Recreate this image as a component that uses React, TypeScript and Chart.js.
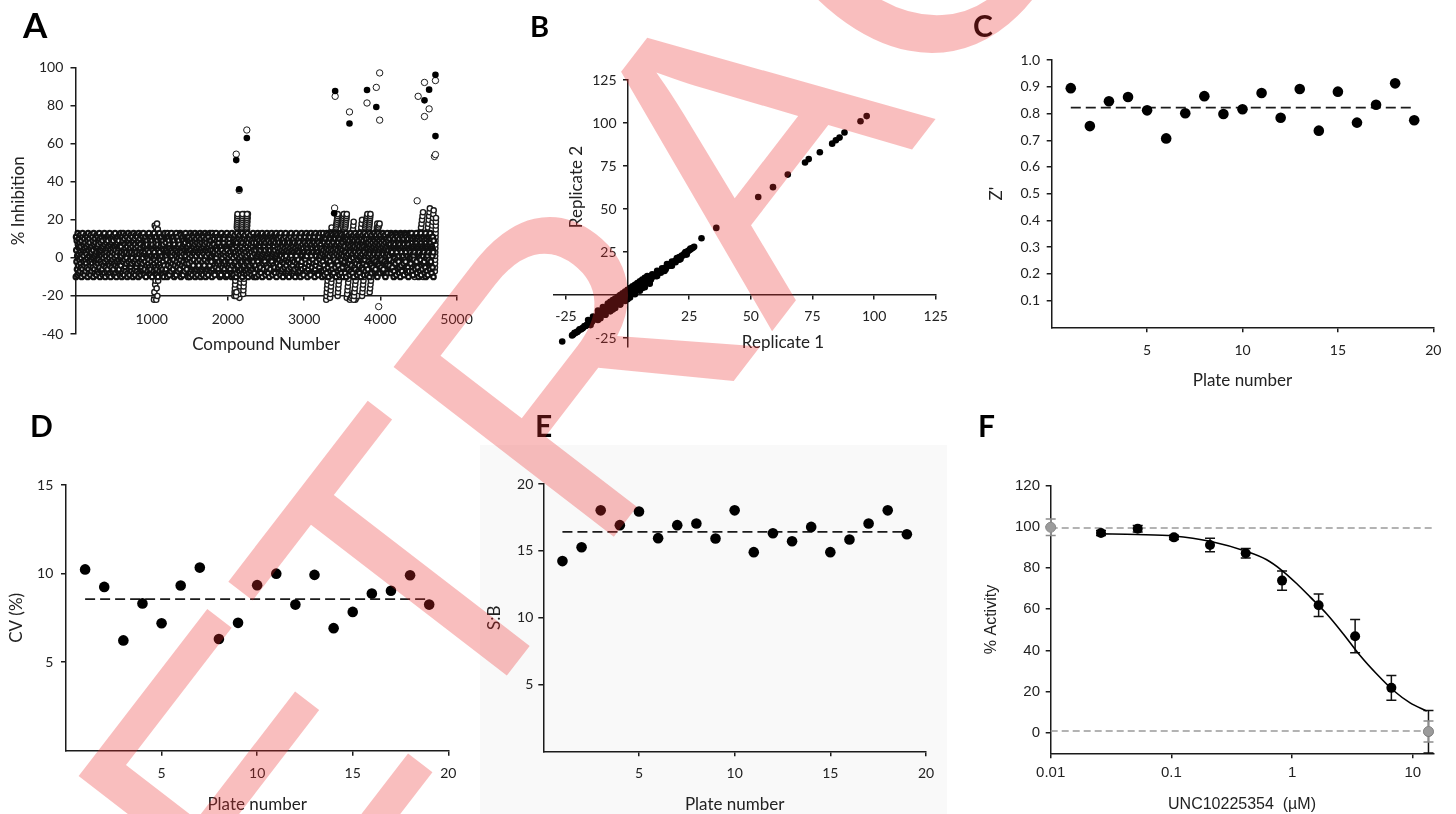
import React, { useEffect, useRef } from 'react';
import { Chart, registerables } from 'chart.js';

Chart.register(...registerables);

const LATO = 'Lato, "Open Sans", sans-serif';
const ARIAL = '"Liberation Sans", Arial, sans-serif';
const INK = '#1b1b1b';
const TXT = '#222';
Chart.defaults.font.family = LATO;
Chart.defaults.color = TXT;

// ---------------- Panel A : % inhibition per compound ----------------
// value code: 'A' = -25 ... 'Z' = 0, 'a' = 1 ... 'z' = 26
const CODE = 'ABCDEFGHIJKLMNOPQRSTUVWXYZabcdefghijklmnopqrstuvwxyz';
const CODE_ZERO = 25;
const bandFrom = 5;
const bandTo = 4700;
const bandCodes = [
  'PkdXiTaQmgVbRjeYhSlcWfUZiPbkTmRdgXaVjQehYcSlWfbUkZiPgmTdRajXhVeQlbYcSfWkUiZdPmgTaRjXbhVeQlcYfSkWi',
  'gYRcmUjPbXhdSkaWeTiQflZVbRmgXdPjUahScYkeTiWlQfbZVmRdgPjXaUhcSkYeiTlWQbfZmVdRgjPaXhUckSeYiTlWfQbZm',
  'VfacPkRhiXmTbdQjYgeUlSaWcZkfPhRimXbTdjQgYelUaScWkZfhPiRmbXdTjgQeYlaUcSkWfZhiPmRbdXjTgeQlYaUcSkWZf',
  'mRbQjfTcXhkPaeVigZdSlWbYmUcjRfQhTkaXeiPgVdlZbSmWcYjUfhRkQaTeXigPdVlbZmScWjYfUhkRaQeTiXgdPlVbmZcSj',
  'hTdaYjPmcVfkRibQgeXlUbSdmZajWchTkfYiPgbVelRdQmaXjcUkSfhZibWgTdmYlPaecVjRkfQiXbgUlSdhZmaWjcTekYfPi',
  'cWkgZbPiRmedTjXahQlUcVfkYbiSgmPdRjaTehXlQcUfkVbiYgSmdPjaRehTlXcQfkUbiVgYmSdPjaRhelTcXfQkbUigVmYdS',
  'iSaXfPmdkTbhRgjVcQleYaUmZfidWbkSgThXjRcPleVaQfmYdUiZbkWghSjTcXlRaPfeVmQdiYbUkZgWhjScTlXaRfPmeVdQi',
  'ZeQjbWlTgcXiPafRmhUdVkYbjSeZlQgcWiTafXmPhdRkUbVjeYlSgZcQiWaTfmXhPdkRbUjVeYlgSZcQiaWfTmhXdPkRbjUeV',
  'dhPkYaTjmXbeQgiVcSflUdRhkZamPjbWegTicYfXldQhkVaSmjUbeRgiZcPflWdThkYamXjbQegVicSflUdRhkZamPjbWegT',
  'jUcRhlYeVbkQmaSgdXiTfPjZcWhlUebRkmYaVgdQiSfXjTcPhlZeWbkUmaRgdYiVfQjScXhlTePbkZmaWgdUiRfYjVcQhlSe',
  'kPfVbmXaTgdReiQjcZlhUkYfWbmSagdPeiTjcVlhXkRfQbmZagUdeiYjcWlhSkPfTbmVagXdeiRjcQlhZkUfYbmWagSdeiPj',
  'bXmSdiVhQakfTcjZemRgbYlUdiPhWakfXcjSemVgbQlTdiZhRakfYcjUemPgbWlXdiShVakfQcjTemZgbRlYdiUhPakfWcjX',
  'fRiZcmPkaUhejXbgTlWdiQfYcmSkaVhejRbgZlPdiUfXcmTkaWhejQbgYlSdiVfRcmZkaPhejUbgXlTdiWfQcmYkaShejVbg',
  'lQeThaXjcfPmbWigdVkRleZhaUjcfYmbSigdTkXleQhaPjcfWmbVigdRkZleUhaYjcfSmbTigdXkQlePhaWjcfVmbRigdZkU',
  'aVjYgeRmdlTbcUkifXhPaSjZgeWmdlQbcYkifTheXaRjUgePmdlVbcSkifZhaWjQgeYmdlXbcTkifRhaUjPgeSmdlZbcWkif',
  'mZhSjbQfeaYkdcViTlgWmXhRjbUfeaPkdcZiSlgYmQhVjbTfeaWkdcXiRlgUmPhZjbSfeaQkdcYiVlgTmWhXjbRfeaUkdcPi',
];
const excursionsA: [number, number, string][] = [
  [1030, 1085, 'DHqLNpDJrFoN'],
  [2085, 2150, 'FHJLNPRTVXZbdfhjlnprtv'],
  [2150, 2215, 'EGIKMOQSUWYacegikmoqsw'],
  [2200, 2262, 'GIKMOQSUWYacegikmoqsuw'],
  [2118, 2126, 'pqrstuvw'],
  [2182, 2190, 'opqrstuvw'],
  [2244, 2250, 'nopqrstuvw'],
  [2100, 2112, 'GFH'],
  [3290, 3360, 'DFHJLNPRTVXZbdfhjlnp'],
  [3340, 3420, 'EGIKMOQSUWYacegikmoq'],
  [3420, 3440, 'pqrstuvw'],
  [3440, 3530, 'FHJLNPRTVXZbdfhjlnprtvw'],
  [3500, 3520, 'qrstuvw'],
  [3540, 3560, 'pqrstuvw'],
  [3560, 3650, 'EGIKMOQSUWYacegikmoqs'],
  [3600, 3700, 'DEFGHDEF'],
  [3650, 3760, 'DFHJLNPRTVXZbdfhjlnprt'],
  [3760, 3860, 'FHJLNPRTVXZbdfhjlnprtvw'],
  [3800, 3830, 'pqrstuvw'],
  [3850, 3870, 'opqrstuvw'],
  [3860, 3960, 'HJLNPRTVXZbdfhjlnpr'],
  [3960, 3990, 'nopqr'],
  [4450, 4560, 'PRTVXZbdfhjlnprtvx'],
  [4560, 4650, 'PRTVXZbdfhjlnprtvxz'],
  [4620, 4700, 'QSUWYacegikmoqsuwy'],
  [4715, 4730, 'SUWYacegikmoqsu'],
];
const hitsFilledX = [2109, 2148, 2248, 3407, 3394, 3595, 3825, 3947, 4579, 4640, 4723, 4723];
const hitsFilledY = [51.4, 36.1, 63.0, 87.7, 23.4, 70.6, 88.2, 79.3, 82.8, 88.4, 96.2, 64.0];
const hitsOpenX = [2109, 2148, 2248, 3407, 3400, 3595, 3825, 3947, 3991, 3991, 4496, 4579, 4579, 4640, 4723, 4710, 4723, 4483, 3978];
const hitsOpenY = [54.5, 35.5, 67.2, 84.9, 26.2, 76.7, 81.4, 89.6, 97.2, 72.4, 84.9, 92.2, 74.3, 78.3, 93.2, 53.3, 54.3, 30.0, -25.6];
const ticksAX = [1000, 2000, 3000, 4000, 5000];
const labelsAX = ['1000', '2000', '3000', '4000', '5000'];
const ticksAY = [-40, -20, 0, 20, 40, 60, 80, 100];
const labelsAY = ['-40', '-20', '0', '20', '40', '60', '80', '100'];

// ---------------- Panel B : replicate correlation ----------------
const replicate1 = [
  -22, -21, -20, -19, -18, -17, -16, -15, -14, -13, -12, -11, -10, -9, -8, -7, -6, -5, -4, -3, -2, -1, 0, 1, 2, 3, 4, 5, 6, 7, 8, 9, 10, 11, 12, 13, 14, 15, 16, 17, 18, 19, 20, 21, 22, 23, 24, 25, 26, 27,
  -21.5, -20.5, -19.5, -18.5, -17.5, -16.5, -15.5, -14.5, -13.5, -12.5, -11.5, -10.5, -9.5, -8.5, -7.5, -6.5, -5.5, -4.5, -3.5, -2.5, -1.5, -0.5, 0.5, 1.5, 2.5, 3.5, 4.5, 5.5, 6.5, 7.5, 8.5, 9.5, 10.5, 11.5, 12.5, 13.5, 14.5, 15.5, 16.5, 17.5, 18.5, 19.5, 20.5, 21.5, 22.5, 23.5, 24.5, 25.5, 26.5,
  -16, -14, -12, -10, -8, -6, -4, -2, 0, 2, 4, 6, 8, 10, 12, 14, 16, 18, 20,
  -15, -12, -9, -6, -3, 0, 3, 6, 9, 12, 15, 18, 21, 24,
  -20.5, -18.5, -16.5, -14.5, -12.5, -10.5, -8.5, -6.5, -4.5, -2.5, -0.5, 1.5, 3.5, 5.5, 7.5, 9.5, 11.5, 13.5, 15.5, 17.5, 19.5, 21.5, 23.5, 25.5,
  -12, -10, -8, -7, -6, -5, -4, -3, -2, -1, 0, 1, 2, 3, 4, 5, 6, 7, 8, -11, -9, -7, -5, -3, -1, 1, 3, 5, 7, 9,
  -26.5, -22.5, 30, 36, 53, 59, 65, 72, 73.5, 78, 83, 84.5, 86, 88, 94.5, 97,
];
const replicate2 = [
  -23, -22, -21, -20, -19, -18, -17, -16, -14.5, -14, -13, -11.5, -11, -9.5, -9, -7.5, -7, -5.5, -5, -3.5, -2.5, -1.5, -0.5, 1, 2, 3.5, 4, 5.5, 6, 7.5, 8.5, 9.5, 10.5, 11.5, 12.5, 13.5, 14.5, 15.5, 16.5, 17.5, 18.5, 19.5, 20.5, 22, 23, 24, 25, 26, 27, 28,
  -22, -21.5, -20, -19.5, -18, -17.5, -16, -15.5, -14, -13.5, -12, -11, -10, -9, -7.5, -6, -5, -4, -3, -2, -0.5, 0.5, 1.5, 2.5, 3, 4, 5, 6, 7, 8, 9, 10, 11, 12, 13, 14, 15, 16, 17, 18, 19, 20, 21, 22, 23, 24.5, 25.5, 26.5, 27.5,
  -14.5, -12.5, -10.5, -8, -6, -4, -2, 0.5, 2, 4.5, 6.5, 8.5, 10.5, 12, 14, 15.5, 18, 19.5, 21.5,
  -17.5, -14.5, -11.5, -8.5, -5.5, -2.5, 1, 4, 7.5, 11, 14, 17, 20.5, 23.5,
  -21.5, -19.5, -17.5, -15.5, -13, -11, -8.5, -6.5, -4.5, -2.5, 0, 1.5, 3, 5, 7, 9, 11, 13, 15, 17, 19, 21, 25, 27,
  -9, -7, -5, -4, -3, -2, -1, 0, 1, 2, 3, 4, 5, 6, 7, 8, 9, 10, 11, -13.5, -11.5, -9.5, -7.5, -5.5, -3.5, -1.5, 0.5, 2.5, 4.5, 6.5,
  -27, -23.5, 33, 39, 57, 62.7, 70, 77, 79, 83, 88, 90, 91.5, 94.5, 101, 104,
];
const ticksB = [-25, 25, 50, 75, 100, 125];
const labelsB = ['-25', '25', '50', '75', '100', '125'];

// ---------------- Panels C, D, E : plate statistics ----------------
const plates = [1, 2, 3, 4, 5, 6, 7, 8, 9, 10, 11, 12, 13, 14, 15, 16, 17, 18, 19];
const zPrime = [0.895, 0.753, 0.846, 0.862, 0.812, 0.707, 0.801, 0.865, 0.798, 0.816, 0.877, 0.784, 0.892, 0.736, 0.882, 0.766, 0.833, 0.913, 0.775];
const zPrimeMean = 0.822;
const cvPercent = [10.24, 9.25, 6.23, 8.32, 7.2, 9.33, 10.34, 6.31, 7.22, 9.35, 10.0, 8.25, 9.93, 6.92, 7.84, 8.88, 9.03, 9.91, 8.25];
const cvMean = 8.56;
const signalToBackground = [14.23, 15.27, 18.03, 16.92, 17.94, 15.95, 16.92, 17.04, 15.92, 18.03, 14.9, 16.32, 15.72, 16.79, 14.9, 15.85, 17.04, 18.03, 16.24];
const sbMean = 16.42;
const plateTicks = [5, 10, 15, 20];
const plateLabels = ['5', '10', '15', '20'];
const ticksCY = [0.1, 0.2, 0.3, 0.4, 0.5, 0.6, 0.7, 0.8, 0.9, 1.0];
const labelsCY = ['0.1', '0.2', '0.3', '0.4', '0.5', '0.6', '0.7', '0.8', '0.9', '1.0'];
const ticksDY = [5, 10, 15];
const labelsDY = ['5', '10', '15'];
const ticksEY = [5, 10, 15, 20];
const labelsEY = ['5', '10', '15', '20'];

// ---------------- Panel F : dose response ----------------
const concF = [0.0261, 0.0526, 0.105, 0.209, 0.413, 0.826, 1.66, 3.33, 6.65, 13.5];
const activityF = [97.0, 99.1, 94.9, 91.2, 87.2, 73.9, 61.9, 46.9, 21.8, 0.5];
const errorF = [1.2, 1.6, 1.0, 3.3, 2.3, 4.7, 5.5, 8.1, 6.0, 10.3];
const controlConc = [0.01, 13.5];
const controlActivity = [99.8, 0.6];
const controlError = [4.0, 5.1];
const fitConc = [0.0256, 0.0516, 0.104, 0.209, 0.421, 0.616, 0.826, 1.09, 1.41, 1.94, 2.66, 3.66, 5.03, 6.92, 9.51, 13.06];
const fitActivity = [96.6, 96.3, 95.6, 93.0, 88.0, 84.0, 78.8, 72.5, 66.0, 57.7, 48.0, 37.5, 28.5, 20.5, 14.5, 10.5];
const refLevels = [99.5, 0.8];
const refSpan = [0.01, 14.8];
const ticksFX = [0.01, 0.1, 1, 10];
const labelsFX = ['0.01', '0.1', '1', '10'];
const ticksFY = [0, 20, 40, 60, 80, 100, 120];
const labelsFY = ['0', '20', '40', '60', '80', '100', '120'];

// ---------------- helpers ----------------
function decode(from: number, to: number, codes: string) {
  const chars = Array.from(codes);
  const n = chars.length;
  return chars.map((ch, i) => ({ x: n > 1 ? from + ((to - from) * i) / (n - 1) : from, y: CODE.indexOf(ch) - CODE_ZERO }));
}
function pairs(xs: number[], ys: number[]) {
  return xs.map((x, i) => ({ x, y: ys[i] }));
}

type AxisSpec = {
  type?: string; position: any; min: number; max: number; ticks: number[]; labels: string[];
  font: any; tl: number; pad: number; size: number; title?: string; titleFont?: any; titlePad?: any; hideLabels?: boolean;
};
function axis(s: AxisSpec) {
  return {
    type: s.type ?? 'linear',
    position: s.position,
    min: s.min,
    max: s.max,
    border: { display: true, color: INK, width: 1.5 },
    grid: { display: true, drawOnChartArea: false, drawTicks: true, tickLength: s.tl, color: INK, tickColor: INK, tickWidth: 1.5, lineWidth: 1.5 },
    afterBuildTicks: (sc: any) => { sc.ticks = s.ticks.map((value) => ({ value })); },
    ticks: { display: !s.hideLabels, color: TXT, font: s.font, padding: s.pad, autoSkip: false, maxRotation: 0, minRotation: 0, callback: (_v: any, i: number) => s.labels[i] ?? '' },
    title: s.title ? { display: true, text: s.title, color: TXT, font: s.titleFont, padding: s.titlePad } : { display: false },
    afterFit: (sc: any) => { if (sc.isHorizontal()) sc.height = s.size; else sc.width = s.size; },
  };
}
function base(padding: any, scales: any, plugins: any = {}) {
  return {
    responsive: false,
    animation: false,
    events: [],
    layout: { padding },
    plugins: { legend: { display: false }, tooltip: { enabled: false }, ...plugins },
    scales,
  };
}

// axis titles placed at fixed spots (panel B has crossing axes)
const freeTextPlugin = {
  id: 'freeText',
  afterDraw(chart: any, _a: any, opts: any) {
    const ctx = chart.ctx;
    for (const it of opts.items || []) {
      ctx.save();
      ctx.font = it.font;
      ctx.fillStyle = TXT;
      ctx.textAlign = 'center';
      ctx.textBaseline = 'middle';
      ctx.translate(it.x, it.y);
      if (it.rotate) ctx.rotate(it.rotate);
      ctx.fillText(it.text, 0, 0);
      ctx.restore();
    }
  },
};

// y tick labels for an axis that crosses at x = 0
const crossLabelPlugin = {
  id: 'crossLabels',
  afterDraw(chart: any, _a: any, opts: any) {
    if (!opts.values) return;
    const { ctx } = chart;
    const px = chart.scales.x.getPixelForValue(0) - opts.gap;
    ctx.save();
    ctx.font = opts.font;
    ctx.fillStyle = TXT;
    ctx.textAlign = 'right';
    ctx.textBaseline = 'middle';
    opts.values.forEach((v: number, i: number) => ctx.fillText(opts.labels[i], px, chart.scales.y.getPixelForValue(v)));
    ctx.restore();
  },
};

const errorBarPlugin = {
  id: 'errorBars',
  beforeDatasetsDraw(chart: any, _a: any, opts: any) {
    const { ctx } = chart;
    const xs = chart.scales.x;
    const ys = chart.scales.y;
    for (const set of opts.sets || []) {
      ctx.save();
      ctx.strokeStyle = set.color;
      ctx.lineWidth = 1.5;
      set.x.forEach((xv: number, i: number) => {
        const px = xs.getPixelForValue(xv);
        const top = ys.getPixelForValue(set.y[i] + set.err[i]);
        const rawBot = ys.getPixelForValue(set.y[i] - set.err[i]);
        const bot = Math.min(rawBot, chart.chartArea.bottom);
        ctx.beginPath();
        ctx.moveTo(px, top); ctx.lineTo(px, bot);
        ctx.moveTo(px - 5, top); ctx.lineTo(px + 5, top);
        if (rawBot <= chart.chartArea.bottom) { ctx.moveTo(px - 5, bot); ctx.lineTo(px + 5, bot); }
        ctx.stroke();
      });
      ctx.restore();
    }
  },
};

const tickLato = { family: LATO, size: 14 };
const titleLato = { family: LATO, size: 17 };
const tickArial = { family: ARIAL, size: 15 };
const titleArial = { family: ARIAL, size: 16 };

const openStyle = { pointBackgroundColor: '#fff', pointBorderColor: INK, pointBorderWidth: 1, showLine: false, clip: false };

function buildA() {
  const band = decode(bandFrom, bandTo, bandCodes.join(''));
  const exc = excursionsA.flatMap(([f, t, c]) => decode(f, t, c));
  return {
    type: 'scatter',
    data: {
      datasets: [
        { data: pairs(hitsFilledX, hitsFilledY), pointRadius: 3.3, pointBackgroundColor: '#000', pointBorderColor: '#000', pointBorderWidth: 0, clip: false },
        { data: pairs(hitsOpenX, hitsOpenY), pointRadius: 3.2, ...openStyle },
        { data: band, pointRadius: 2.3, ...openStyle, pointBorderWidth: 2.2, pointBorderColor: '#111' },
        { data: exc, pointRadius: 2.6, ...openStyle, pointBorderWidth: 1.4 },
      ],
    },
    options: base({ top: 14, right: 26, bottom: 26, left: 0 }, {
      x: axis({ position: { y: -20 }, min: 0, max: 5000, ticks: ticksAX, labels: labelsAX, font: tickLato, tl: 4, pad: 11.2, size: 60.5, title: 'Compound Number', titleFont: titleLato, titlePad: { top: 0, bottom: 2 } }),
      y: axis({ position: 'left', min: -40, max: 100, ticks: ticksAY, labels: labelsAY, font: tickLato, tl: 5, pad: 7.2, size: 69.5, title: '% Inhibition', titleFont: titleLato, titlePad: { top: 2.1, bottom: 0 } }),
    }),
  };
}

function buildB() {
  return {
    type: 'scatter',
    data: { datasets: [{ data: pairs(replicate1, replicate2), pointRadius: 3.3, pointBackgroundColor: '#000', pointBorderWidth: 0, clip: false }] },
    options: base({ top: 20, right: 24.3, bottom: 13.4, left: 13.6 }, {
      x: axis({ position: { y: 0 }, min: -30, max: 125, ticks: ticksB, labels: labelsB, font: tickLato, tl: 4, pad: 9.3, size: 30 }),
      y: axis({ position: { x: 0 }, min: -30, max: 125, ticks: ticksB, labels: labelsB, font: tickLato, tl: 4, pad: 8.6, size: 30, hideLabels: true }),
    }, {
      freeText: { items: [
        { text: 'Replicate 1', x: 243, y: 283, font: `17px ${LATO}` },
        { text: 'Replicate 2', x: 37, y: 127, rotate: -Math.PI / 2, font: `17px ${LATO}` },
      ] },
      crossLabels: { values: ticksB, labels: labelsB, gap: 11, font: `14px ${LATO}` },
    }),
    plugins: [freeTextPlugin, crossLabelPlugin],
  };
}

function plateChart(values: number[], mean: number, yMax: number, yTicks: number[], yLabels: string[], yTitle: string, g: any) {
  return {
    type: 'scatter',
    data: {
      datasets: [
        { data: pairs(plates, values), pointRadius: 5.3, pointBackgroundColor: '#000', pointBorderWidth: 0, clip: false },
        { type: 'line', data: [{ x: plates[0], y: mean }, { x: plates[plates.length - 1], y: mean }], showLine: true, borderColor: INK, borderWidth: 1.6, borderDash: [10, 5], pointRadius: 0 },
      ],
    },
    options: base({ top: g.pt, right: g.pr, bottom: 0, left: 0 }, {
      x: axis({ position: 'bottom', min: 0, max: 20, ticks: plateTicks, labels: plateLabels, font: tickLato, tl: 5, pad: g.xpad, size: g.hx, title: 'Plate number', titleFont: titleLato, titlePad: { top: 0, bottom: g.xtp } }),
      y: axis({ position: 'left', min: 0, max: yMax, ticks: yTicks, labels: yLabels, font: tickLato, tl: 5, pad: g.ypad, size: g.wy, title: yTitle, titleFont: titleLato, titlePad: { top: g.ytp, bottom: 0 } }),
    }),
  };
}
const buildC = () => plateChart(zPrime, zPrimeMean, 1.0, ticksCY, labelsCY, "Z'", { pt: 14.3, pr: 22.7, xpad: 9.3, hx: 66.7, xtp: 2.8, ypad: 6.7, wy: 66.7, ytp: 1.8 });
const buildD = () => plateChart(cvPercent, cvMean, 15, ticksDY, labelsDY, 'CV (%)', { pt: 14.3, pr: 22.7, xpad: 9.2, hx: 66.3, xtp: 1.8, ypad: 7.7, wy: 61, ytp: 1.8 });
const buildE = () => plateChart(signalToBackground, sbMean, 20, ticksEY, labelsEY, 'S:B', { pt: 14, pr: 23, xpad: 8.6, hx: 65.7, xtp: 1.8, ypad: 5, wy: 60.3, ytp: 1.8 });

function buildF() {
  const refLine = (lv: number) => ({ type: 'line', data: refSpan.map((x) => ({ x, y: lv })), showLine: true, borderColor: '#9a9a9a', borderWidth: 1.5, borderDash: [7, 4], pointRadius: 0, clip: false });
  return {
    type: 'scatter',
    data: {
      datasets: [
        { data: pairs(controlConc, controlActivity), pointRadius: 5, pointBackgroundColor: '#9b9b9b', pointBorderColor: '#8a8a8a', pointBorderWidth: 1, clip: false },
        { data: pairs(concF, activityF), pointRadius: 5, pointBackgroundColor: '#000', pointBorderWidth: 0, clip: false },
        { type: 'line', data: pairs(fitConc, fitActivity), showLine: true, borderColor: '#000', borderWidth: 1.6, pointRadius: 0, cubicInterpolationMode: 'monotone', clip: false },
        refLine(refLevels[0]),
        refLine(refLevels[1]),
      ],
    },
    options: base({ top: 14, right: 22.7, bottom: 0, left: 0 }, {
      x: axis({ type: 'logarithmic', position: 'bottom', min: 0.01, max: 14.8, ticks: ticksFX, labels: labelsFX, font: tickArial, tl: 5, pad: 6, size: 63.7, title: 'UNC10225354  (\u00b5M)', titleFont: titleArial, titlePad: { top: 0, bottom: 2.4 } }),
      y: axis({ position: 'left', min: -10, max: 120, ticks: ticksFY, labels: labelsFY, font: tickArial, tl: 5, pad: 5.7, size: 70.7, title: '% Activity', titleFont: titleArial, titlePad: { top: 2.4, bottom: 0 } }),
    }, {
      errorBars: { sets: [
        { x: concF, y: activityF, err: errorF, color: '#111' },
        { x: controlConc, y: controlActivity, err: controlError, color: '#8c8c8c' },
      ] },
    }),
    plugins: [errorBarPlugin],
  };
}

function ChartBox({ x, y, w, h, build }: { x: number; y: number; w: number; h: number; build: () => any }) {
  const ref = useRef<HTMLCanvasElement | null>(null);
  useEffect(() => {
    if (!ref.current) return;
    const chart = new Chart(ref.current, build());
    return () => chart.destroy();
  }, [build]);
  return <canvas ref={ref} width={w} height={h} style={{ position: 'absolute', left: x, top: y, width: w, height: h }} />;
}

const panelLetters: [string, number, number, number][] = [
  ['A', 23, 38, 35], ['B', 530, 37, 29], ['C', 973, 36.7, 30], ['D', 30, 436.7, 30], ['E', 535, 436.7, 30], ['F', 978, 436.7, 30],
];

export default function App() {
  return (
    <div style={{ position: 'absolute', left: 0, top: 0, width: 1456, height: 814, background: '#fff', overflow: 'hidden' }}>
      <div style={{ position: 'absolute', left: 480, top: 445, width: 467, height: 369, background: '#f9f9f9' }} />
      <ChartBox x={6} y={52} w={478} h={308} build={buildA} />
      <ChartBox x={540} y={60} w={420} h={300} build={buildB} />
      <ChartBox x={985} y={45} w={471} h={349} build={buildC} />
      <ChartBox x={5} y={469} w={466} h={348} build={buildD} />
      <ChartBox x={483} y={470} w={466} h={347} build={buildE} />
      <ChartBox x={980} y={471} w={476} h={346} build={buildF} />
      <svg width={1456} height={814} style={{ position: 'absolute', left: 0, top: 0, pointerEvents: 'none' }}>
        {panelLetters.map(([t, x, y, s]) => (
          <text key={t} x={x} y={y} fontFamily={LATO} fontWeight={700} fontSize={s} fill="#000">{t}</text>
        ))}
        <text transform="translate(100.6 1203.1) rotate(-52.4)" fontFamily={ARIAL} fontSize={404} fill="rgb(235,45,45)" fillOpacity={0.31}>RETRACTED</text>
      </svg>
    </div>
  );
}
